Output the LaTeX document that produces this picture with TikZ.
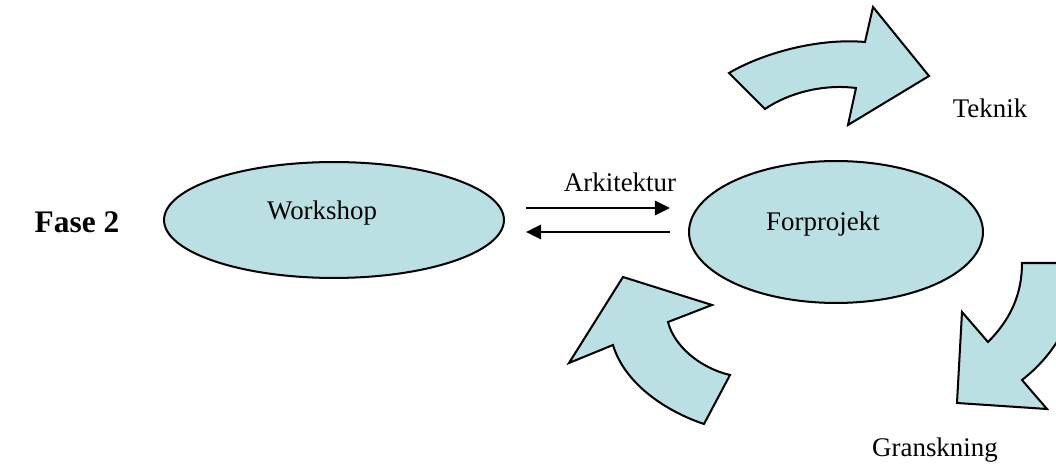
\documentclass[tikz,border=0pt]{standalone}
\usepackage{fontspec}
\setmainfont{Liberation Serif}
\usetikzlibrary{arrows.meta,shapes.geometric,positioning}
\definecolor{paleblue}{RGB}{187,224,227}

\begin{document}
\begin{tikzpicture}[x=0.446pt, y=-0.446pt, font=\fontsize{12}{14}\selectfont, >={Triangle[length=6.7pt,width=6.3pt]}]
  \tikzstyle{phase} = [ellipse, draw, fill=paleblue, line width=0.9pt, inner sep=0]
  \tikzstyle{bendarrow} = [draw, fill=paleblue, line width=0.9pt, line join=miter]
  \tikzstyle{flow} = [->, line width=1.3pt]
  \tikzstyle{tag} = [inner sep=1]

  \useasboundingbox (0,0) rectangle (1056,467);
  \clip (0,0) rectangle (1056,467);

  \node[tag, font=\fontsize{14}{16}\selectfont\bfseries] (fase) at (77,222) {Fase 2};

  \node[phase, minimum width=151.6pt, minimum height=51.7pt] (ws) at (334,220) {};
  \node[phase, minimum width=131.1pt, minimum height=63.3pt] (fp) at (836,232) {};
  \node[tag] (wstxt) at (322,213) {Workshop};
  \node[tag] (fptxt) at (823,224) {Forprojekt};

  % arrows between the two phases
  \coordinate (a1) at (526,208);
  \coordinate (a2) at (670,208);
  \coordinate (b1) at (670,232);
  \coordinate (b2) at (526,232);
  \draw[flow] (a1) -- (a2);
  \draw[flow] (b1) -- (b2);
  \node[tag] (ark) at (620,182) {Arkitektur};

  % bent arrows
  \draw[bendarrow] (729,73) .. controls (765,52) and (820,38) .. (865,42) -- (873,7) -- (929,76)
    -- (848,125) -- (856,88) .. controls (825,84) and (790,92) .. (765,109) -- cycle;
  \node[tag] (tek) at (990,108) {Teknik};

  \draw[bendarrow] (1022,263) -- (1079,263) .. controls (1079,312) and (1058,352) .. (1022,380)
    -- (1047,409) -- (957,403) -- (962,312) -- (988,342) .. controls (1010,320) and (1022,295) .. cycle;

  \draw[bendarrow] (623,277) -- (712,305) -- (668,322) .. controls (674,346) and (700,368) .. (730,375)
    -- (704,424) .. controls (668,412) and (625,385) .. (613,345) -- (569,363) -- cycle;
  \node[tag] (gran) at (935,450) {Granskning};
\end{tikzpicture}
\end{document}
